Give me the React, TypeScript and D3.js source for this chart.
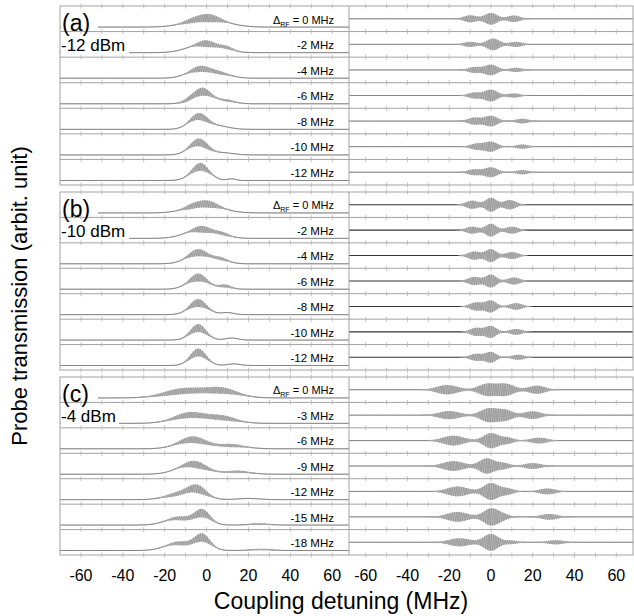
import * as d3 from "d3";
import React, { useMemo } from "react";

// RF detunings of each stack (MHz)
const rfA = [0, -2, -4, -6, -8, -10, -12];
const rfB = [0, -2, -4, -6, -8, -10, -12];
const rfC = [0, -3, -6, -9, -12, -15, -18];
const panelLetters = ["(a)", "(b)", "(c)"];
const rfPowers = ["-12 dBm", "-10 dBm", "-4 dBm"];
const xTicks = [-60, -40, -20, 0, 20, 40, 60];

// left traces: transmission bumps [center MHz, width MHz, height]
const leftBumpsA = [
  [[0, 9, 0.45]],
  [[-1, 7.5, 0.45], [10, 3, 0.1]],
  [[-3, 6, 0.45], [8, 5, 0.15]],
  [[-2, 5, 0.6], [10, 4, 0.13]],
  [[-4, 4.5, 0.62], [6, 5, 0.15]],
  [[-4, 4.5, 0.62], [8, 5, 0.1]],
  [[-3, 4.5, 0.68], [12, 2, 0.08]],
];
const leftBumpsB = [
  [[-1, 8, 0.45]],
  [[-3, 7, 0.45], [8, 4, 0.1]],
  [[-4, 5.5, 0.55], [7, 4, 0.18]],
  [[-4, 5, 0.58], [9, 3, 0.14]],
  [[-4, 4.5, 0.58], [10, 3, 0.1]],
  [[-4, 4, 0.6], [12, 3, 0.1]],
  [[-4, 4, 0.65], [13, 3, 0.08]],
];
const leftBumpsC = [
  [[-10, 10, 0.33], [8, 8, 0.3]],
  [[-8, 8, 0.4], [8, 7, 0.22]],
  [[-7, 7, 0.45], [12, 7, 0.15]],
  [[-7, 7, 0.5], [15, 6, 0.12]],
  [[-5, 5, 0.5], [-15, 6, 0.2], [20, 5, 0.06]],
  [[-2, 4, 0.55], [-14, 6, 0.33], [25, 5, 0.05]],
  [[-2, 4, 0.6], [-14, 6, 0.35], [26, 5, 0.05]],
];

// left traces: beat-note envelope lobes [center, width, amplitude]
const leftOscA = [
  [[1, 5, 0.2], [-8, 4, 0.08]],
  [[0, 4, 0.17], [10, 3, 0.08]],
  [[-3, 4, 0.15], [6, 4, 0.08]],
  [[-2, 3.5, 0.2], [-9, 3, 0.08], [10, 3, 0.06]],
  [[-3, 4, 0.18]],
  [[-3, 4, 0.2]],
  [[-3, 3.5, 0.2]],
];
const leftOscB = [
  [[0, 5, 0.18], [-8, 3, 0.08]],
  [[-2, 4, 0.17], [8, 3, 0.08]],
  [[-4, 4, 0.18], [7, 3, 0.08]],
  [[-4, 3.5, 0.2], [9, 3, 0.08]],
  [[-4, 3.5, 0.2]],
  [[-4, 3.5, 0.2]],
  [[-4, 3.5, 0.2]],
];
const leftOscC = [
  [[-12, 9, 0.15], [7, 7, 0.15]],
  [[-8, 7, 0.15], [8, 6, 0.12]],
  [[-6, 6, 0.17], [12, 5, 0.08]],
  [[-5, 5, 0.18], [15, 5, 0.06]],
  [[-4, 4, 0.2], [-14, 5, 0.1]],
  [[-2, 3.5, 0.2], [-12, 5, 0.1], [25, 4, 0.04]],
  [[-2, 3.5, 0.2], [-12, 5, 0.1], [26, 4, 0.04]],
];

// right traces: envelope lobes [center, width, amplitude]
const rightOscA = [
  [[-10, 3, 0.3], [0, 3, 0.5], [11, 3, 0.28]],
  [[-10, 3, 0.22], [1, 3, 0.5], [12, 3, 0.22]],
  [[-8, 3, 0.25], [0, 3, 0.45], [12, 3, 0.18]],
  [[-8, 3, 0.25], [0, 3, 0.5], [11, 3, 0.18]],
  [[-8, 3, 0.3], [0, 3, 0.45], [15, 3, 0.2]],
  [[-7, 3, 0.25], [0, 3, 0.42], [15, 3, 0.18]],
  [[-8, 3, 0.25], [0, 3, 0.42], [15, 3, 0.18]],
];
const rightOscB = [
  [[-9, 3, 0.35], [0, 2.5, 0.6], [9, 3, 0.4]],
  [[-9, 3, 0.3], [0, 2.5, 0.55], [10, 3, 0.3]],
  [[-8, 3, 0.35], [0, 2.5, 0.55], [10, 3, 0.3]],
  [[-8, 3, 0.35], [0, 2.5, 0.55], [11, 3, 0.3]],
  [[-7, 3, 0.35], [0, 2.5, 0.5], [12, 3, 0.28]],
  [[-7, 3, 0.35], [0, 2.5, 0.5], [12, 3, 0.25]],
  [[-7, 3, 0.3], [0, 2.5, 0.45], [13, 3, 0.22]],
];
const rightOscC = [
  [[-21, 5, 0.4], [-2, 4, 0.5], [7, 4, 0.5], [22, 4, 0.35]],
  [[-20, 5, 0.35], [-1, 4, 0.58], [7, 3.5, 0.42], [20, 4, 0.33]],
  [[-18, 5, 0.42], [0, 3.5, 0.65], [8, 3, 0.25], [23, 4, 0.25]],
  [[-18, 5, 0.42], [-2, 3.5, 0.65], [6, 3, 0.25], [20, 4, 0.25]],
  [[-16, 5, 0.42], [0, 3.5, 0.72], [8, 3, 0.25], [27, 4, 0.25]],
  [[-16, 5, 0.42], [0, 3.5, 0.72], [6, 3, 0.18], [28, 4, 0.25]],
  [[-15, 5, 0.35], [0, 3.5, 0.72], [10, 3, 0.15], [31, 4, 0.18]],
];

const FONT = "Liberation Sans, Arial, sans-serif";
const X0 = 60;
const XM = 349;
const X1 = 633;
const PERIOD = 1.1;

const groups = [
  { top: 6, bottom: 185, rf: rfA, lb: leftBumpsA, lo: leftOscA, ro: rightOscA },
  { top: 192, bottom: 370, rf: rfB, lb: leftBumpsB, lo: leftOscB, ro: rightOscB },
  { top: 377, bottom: 555, rf: rfC, lb: leftBumpsC, lo: leftOscC, ro: rightOscC },
];

const gsum = (x, list) =>
  list.reduce((t, [c, s, a]) => t + a * Math.exp(-((x - c) ** 2) / (2 * s * s)), 0);

const xL = d3.scaleLinear().domain([-70, 68]).range([X0, XM]);
const xR = d3.scaleLinear().domain([-68, 68]).range([XM, X1]);
const gridL = d3.range(-70, 68.001, 0.1);
const gridR = d3.range(-68, 68.001, 0.1);

export default function App() {
  const traces = useMemo(() => {
    const out = [];
    groups.forEach((g, gi) => {
      const rowH = (g.bottom - g.top) / 7;
      g.rf.forEach((_, r) => {
        const rTop = g.top + r * rowH;
        const rBot = rTop + rowH;
        // left column: baseline near the bottom of the row
        const yL = d3.scaleLinear().domain([0, 1]).range([rBot - 4.5, rBot - 24.5]);
        const ptsL = gridL.map((x) => {
          const b = gsum(x, g.lb[r]);
          const e = gsum(x, g.lo[r]);
          return { x, b, e, v: b + e * Math.sin((2 * Math.PI * x) / PERIOD) };
        });
        // right column: centred in the row
        const yR = d3.scaleLinear().domain([-1, 1]).range([rBot - 1, rTop + 1]);
        const ptsR = gridR.map((x) => {
          const e = gsum(x, g.ro[r]);
          return { x, b: 0, e, v: e * Math.sin((2 * Math.PI * x) / PERIOD + 0.7) };
        });
        const on = (d) => d.e > 0.01;
        const areaL = d3.area().defined(on).x((d) => xL(d.x)).y0((d) => yL(d.b - d.e)).y1((d) => yL(d.b + d.e));
        const baseL = d3.line().x((d) => xL(d.x)).y((d) => yL(d.b));
        const lineL = d3.line().defined(on).x((d) => xL(d.x)).y((d) => yL(d.v));
        const areaR = d3.area().defined(on).x((d) => xR(d.x)).y0((d) => yR(-d.e)).y1((d) => yR(d.e));
        const baseR = d3.line().x((d) => xR(d.x)).y(() => yR(0));
        const lineR = d3.line().defined(on).x((d) => xR(d.x)).y((d) => yR(d.v));
        out.push({
          key: `${gi}-${r}`,
          bL: baseL(ptsL),
          aL: areaL(ptsL),
          lL: lineL(ptsL),
          bR: baseR(ptsR),
          aR: areaR(ptsR),
          lR: lineR(ptsR),
          wR: gi === 1 ? 1.1 : 0.8,
        });
      });
    });
    return out;
  }, []);

  const minor = d3.range(-60, 61, 10);

  return (
    <svg width={634} height={616} style={{ position: "absolute", left: 0, top: 0, background: "#fff" }}>
      {/* traces */}
      {traces.map((t) => (
        <g key={t.key}>
          <path d={t.bL} fill="none" stroke="#333" strokeWidth={0.8} />
          <path d={t.aL} fill="#c4c4c4" stroke="none" />
          <path d={t.lL} fill="none" stroke="#7a7a7a" strokeWidth={0.5} />
          <path d={t.bR} fill="none" stroke="#333" strokeWidth={t.wR} />
          <path d={t.aR} fill="#c4c4c4" stroke="none" />
          <path d={t.lR} fill="none" stroke="#7a7a7a" strokeWidth={0.5} />
        </g>
      ))}

      {/* white boxes behind panel labels */}
      {groups.map((g, gi) => (
        <g key={`wb${gi}`}>
          <rect x={X0 + 1} y={g.top + 2} width={37} height={23} fill="#fff" />
          <rect x={X0 + 1} y={g.top + 30} width={gi === 2 ? 58 : 68} height={19} fill="#fff" />
        </g>
      ))}

      {/* frames, separators and ticks */}
      {groups.map((g, gi) => {
        const rowH = (g.bottom - g.top) / 7;
        const ys = d3.range(8).map((i) => g.top + i * rowH);
        return (
          <g key={`fr${gi}`} stroke="#a3a3a3" strokeWidth={1} fill="none">
            <rect x={X0} y={g.top} width={X1 - X0} height={g.bottom - g.top} />
            <line x1={XM} x2={XM} y1={g.top} y2={g.bottom} />
            {ys.slice(1, 7).map((y, i) => (
              <line key={i} x1={X0} x2={X1} y1={y} y2={y} />
            ))}
            {ys.map((y, i) => (
              <g key={`t${i}`} strokeWidth={0.8} stroke="#b5b5b5">
                {minor.map((m) => (
                  <line key={`l${m}`} x1={xL(m)} x2={xL(m)} y1={y - 2.5} y2={y + 2.5} />
                ))}
                {minor.map((m) => (
                  <line key={`r${m}`} x1={xR(m)} x2={xR(m)} y1={y - 2.5} y2={y + 2.5} />
                ))}
              </g>
            ))}
          </g>
        );
      })}

      {/* panel labels */}
      {groups.map((g, gi) => {
        const rowH = (g.bottom - g.top) / 7;
        return (
          <g key={`lb${gi}`} fontFamily={FONT}>
            <text x={X0 + 2} y={g.top + 25} fontSize={23} fill="#000">
              {panelLetters[gi]}
            </text>
            <text x={X0 + 1} y={g.top + 45} fontSize={17} fill="#000">
              {rfPowers[gi]}
            </text>
            {g.rf.map((v, r) => {
              const y = g.top + (r + 1) * rowH - 8;
              return r === 0 ? (
                <text key={r} x={334} y={y} fontSize={11} textAnchor="end" fill="#000">
                  Δ<tspan fontSize={7} dy={3}>RF</tspan>
                  <tspan dy={-3}> = {v} MHz</tspan>
                </text>
              ) : (
                <text key={r} x={334} y={y} fontSize={11.5} textAnchor="end" fill="#000">
                  {v} MHz
                </text>
              );
            })}
          </g>
        );
      })}

      {/* x tick labels */}
      <g fontFamily={FONT} fontSize={16} textAnchor="middle" fill="#000">
        {xTicks.map((t) => (
          <text key={`xl${t}`} x={xL(t)} y={581}>
            {t}
          </text>
        ))}
        {xTicks.map((t) => (
          <text key={`xr${t}`} x={xR(t)} y={581}>
            {t}
          </text>
        ))}
      </g>

      {/* axis titles */}
      <text x={341} y={609} fontFamily={FONT} fontSize={23} textAnchor="middle" fill="#000">
        Coupling detuning (MHz)
      </text>
      <text
        transform="translate(27,296) rotate(-90)"
        fontFamily={FONT}
        fontSize={22}
        textAnchor="middle"
        fill="#000"
      >
        Probe transmission (arbit. unit)
      </text>
    </svg>
  );
}
